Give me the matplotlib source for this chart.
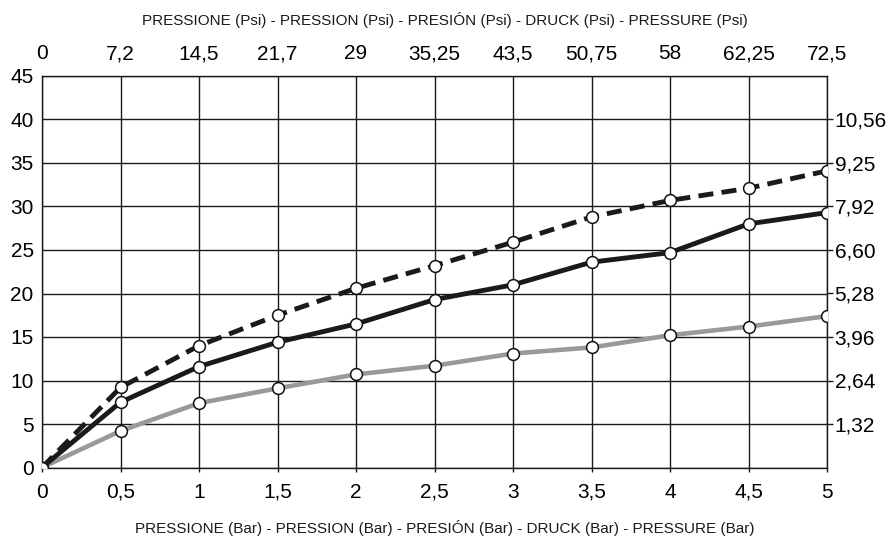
import matplotlib
matplotlib.use("Agg")
import matplotlib.pyplot as plt

plt.rcParams['font.family'] = ['Liberation Sans', 'DejaVu Sans']

# pressure in bar (x) and the three curves
bar = [0, 0.5, 1, 1.5, 2, 2.5, 3, 3.5, 4, 4.5, 5]
curve_dashed = [0, 9.2, 14.0, 17.5, 20.6, 23.2, 25.9, 28.8, 30.7, 32.1, 34.1]
curve_black = [0, 7.5, 11.6, 14.4, 16.5, 19.3, 21.0, 23.6, 24.7, 28.0, 29.3]
curve_grey = [0, 4.2, 7.4, 9.1, 10.7, 11.7, 13.1, 13.8, 15.2, 16.2, 17.4]

bar_labels = ["0", "0,5", "1", "1,5", "2", "2,5", "3", "3,5", "4", "4,5", "5"]
psi_labels = ["0", "7,2", "14,5", "21,7", "29", "35,25", "43,5", "50,75", "58", "62,25", "72,5"]
left_ticks = [0, 5, 10, 15, 20, 25, 30, 35, 40, 45]
right_ticks = [5, 10, 15, 20, 25, 30, 35, 40]
right_labels = ["1,32", "2,64", "3,96", "5,28", "6,60", "7,92", "9,25", "10,56"]

fig = plt.figure(figsize=(8.9, 5.39), dpi=100)
ax = fig.add_axes([42 / 890, 1 - 467.5 / 539, (827 - 42) / 890, (467.5 - 76) / 539])

ax.set_xlim(0, 5)
ax.set_ylim(0, 45)
ax.set_xticks(bar)
ax.set_xticklabels(bar_labels, fontsize=15)
ax.set_yticks(left_ticks)
ax.set_yticklabels([str(v) for v in left_ticks], fontsize=15)
ax.grid(True, color="#1a1a1a", linewidth=1.0)
ax.set_axisbelow(True)
for s in ax.spines.values():
    s.set_color("#1a1a1a")
    s.set_linewidth(1.0)
ax.tick_params(axis="x", length=3, width=1.0, color="#1a1a1a", pad=8)
ax.tick_params(axis="y", length=0, pad=6)

marker = dict(marker="o", markersize=8.5, markerfacecolor="white",
              markeredgecolor="#111111", markeredgewidth=1.1)
ax.plot(bar, curve_grey, color="#999999", linewidth=3.3, zorder=3, **marker)
ax.plot(bar, curve_black, color="#1a1a1a", linewidth=3.5, zorder=4, **marker)
ax.plot(bar, curve_dashed, color="#1a1a1a", linewidth=3.5, dashes=(3.1, 1.7),
        zorder=5, **marker)

# top axis in psi
top = ax.twiny()
top.set_xlim(ax.get_xlim())
top.set_xticks(bar)
top.set_xticklabels(psi_labels, fontsize=15)
top.tick_params(axis="x", length=0, pad=9)
for s in top.spines.values():
    s.set_visible(False)

# right axis
right = ax.twinx()
right.set_ylim(ax.get_ylim())
right.set_yticks(right_ticks)
right.set_yticklabels(right_labels, fontsize=15)
right.tick_params(axis="y", length=4, width=1.0, color="#1a1a1a", pad=1.5)
for s in right.spines.values():
    s.set_visible(False)

fig.text(0.5, 1 - 20 / 539, "PRESSIONE (Psi) - PRESSION (Psi) - PRESIÓN (Psi) - DRUCK (Psi) - PRESSURE (Psi)",
         ha="center", va="center", fontsize=11, color="#1a1a1a")
fig.text(0.5, 1 - 528 / 539, "PRESSIONE (Bar) - PRESSION (Bar) - PRESIÓN (Bar) - DRUCK (Bar) - PRESSURE (Bar)",
         ha="center", va="center", fontsize=11, color="#1a1a1a")

fig.savefig("out.png", dpi=100)
